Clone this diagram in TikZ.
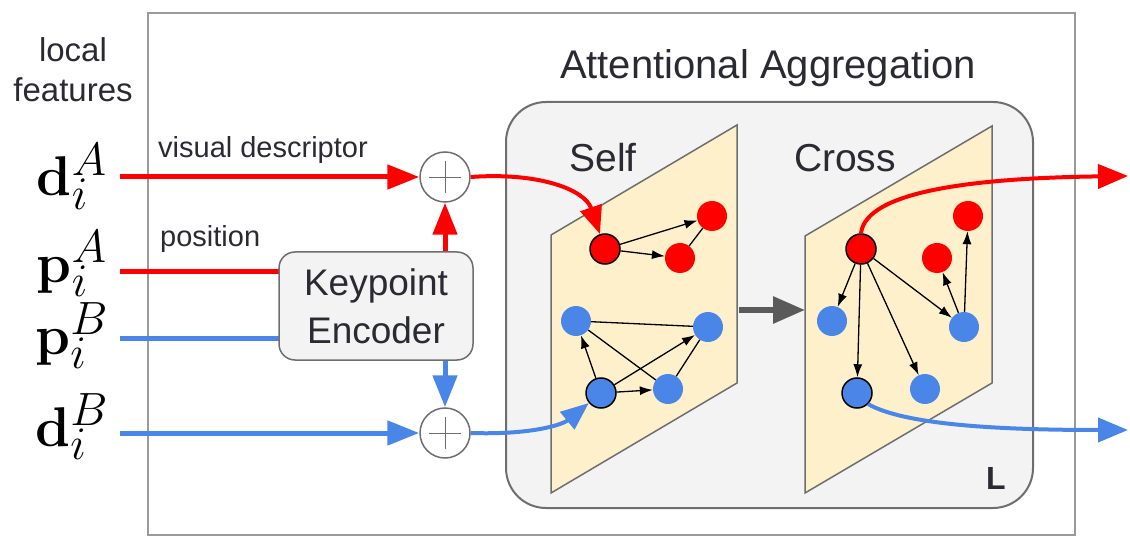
\documentclass[tikz,border=0pt]{standalone}
\usepackage{graphicx}
\usepackage[no-math]{fontspec}
\setmainfont{Liberation Sans}
\usetikzlibrary{arrows.meta}
\definecolor{cred}{HTML}{FF0000}
\definecolor{cblue}{HTML}{4A86E8}
\definecolor{cream}{HTML}{FFF0CC}
\definecolor{boxfill}{HTML}{F3F3F3}
\definecolor{boxline}{HTML}{6E6E6E}
\definecolor{framegray}{HTML}{9A9A9A}
\definecolor{txtgray}{HTML}{2A2A33}
\definecolor{arrgray}{HTML}{5A5A5A}
\newcommand{\biglbl}[1]{\scalebox{2.25}{\Huge$#1$}}
\tikzset{
  label/.style={text=txtgray, inner sep=0pt},
  mathlbl/.style={inner sep=0pt, anchor=base},
  flowred/.style={draw=cred, line width=5pt, -{Triangle[length=32pt,width=24pt]}},
  flowblue/.style={draw=cblue, line width=5pt, -{Triangle[length=32pt,width=24pt]}},
  plainred/.style={draw=cred, line width=5pt},
  plainblue/.style={draw=cblue, line width=5pt},
  sumnode/.style={circle, draw=boxline, line width=1.5pt, fill=white, minimum size=50pt, inner sep=0pt},
  panel/.style={draw=boxline, line width=1.5pt, fill=cream},
  kp/.style={circle, minimum size=30pt, inner sep=0pt},
  kpred/.style={kp, fill=cred},
  kpblue/.style={kp, fill=cblue},
  kpsel/.style={draw=black, line width=1.5pt},
  msg/.style={draw=black, line width=1.3pt, -{Latex[length=13pt,width=9pt]}},
  link/.style={draw=black, line width=1.3pt},
}
\begin{document}
\begin{tikzpicture}[x=1pt,y=-1pt]
\useasboundingbox (0,0) rectangle (1130,537);

% outer frame
\draw[framegray, line width=2pt] (148,13) rectangle (1075,535);

% input labels
\node[label, align=center, font=\fontsize{33}{40}\selectfont] (lf) at (73,70) {local\\features};
\node[mathlbl] (dA) at (72,196) {\biglbl{\mathbf{d}_i^{A}}};
\node[mathlbl] (pA) at (72,283) {\biglbl{\mathbf{p}_i^{A}}};
\node[mathlbl] (pB) at (72,355) {\biglbl{\mathbf{p}_i^{B}}};
\node[mathlbl] (dB) at (72,446) {\biglbl{\mathbf{d}_i^{B}}};

\coordinate (inDA) at (120,177);
\coordinate (inPA) at (120,272);
\coordinate (inPB) at (120,339);
\coordinate (inDB) at (120,433);

\node[label, anchor=base west, font=\fontsize{29}{32}\selectfont] (vd) at (158,158) {visual descriptor};
\node[label, anchor=base west, font=\fontsize{29}{32}\selectfont] (pos) at (160,247) {position};

% summation nodes and keypoint encoder
\node[sumnode] (plusA) at (445,177) {};
\node[sumnode] (plusB) at (445,433) {};
\foreach \p in {plusA,plusB}{
  \draw[boxline, line width=0.9pt] ([xshift=-16pt]\p.center) -- ([xshift=16pt]\p.center);
  \draw[boxline, line width=0.9pt] ([yshift=-16pt]\p.center) -- ([yshift=16pt]\p.center);
}

\draw[plainred] (inPA) -- (279,272);
\draw[plainblue] (inPB) -- (279,339);

\node[draw=boxline, line width=1.5pt, fill=boxfill, rounded corners=16pt,
      minimum width=194pt, minimum height=108pt, align=center, text=txtgray,
      font=\fontsize{37}{48}\selectfont] (ke) at (376,306) {Keypoint\\Encoder};

\draw[flowred] (inDA) -- (plusA.west);
\draw[flowblue] (inDB) -- (plusB.west);
\draw[flowred] (plusA |- ke.north) -- (plusA.south);
\draw[flowblue] (plusB |- ke.south) -- (plusB.north);

% attentional aggregation block
\node[label, font=\fontsize{40}{44}\selectfont] (aa) at (768,68) {Attentional Aggregation};
\node[draw=boxline, line width=2pt, fill=boxfill, rounded corners=40pt,
      minimum width=527pt, minimum height=406pt] (agg) at (769.5,305) {};

\draw[panel] (551,235) -- (737,125) -- (737,383) -- (551,493) -- cycle;
\draw[panel] (805,236) -- (992,126) -- (992,383) -- (805,493) -- cycle;
\node[label, font=\fontsize{39}{44}\selectfont] (selft) at (603,158) {Self};
\node[label, font=\fontsize{39}{44}\selectfont] (crosst) at (845,158) {Cross};
\node[label, font=\fontsize{32}{36}\bfseries\selectfont] (ll) at (996,478) {L};

\coordinate (gs) at (739,310);
\coordinate (ge) at (805,310);
\draw[arrgray, line width=6pt, -{Triangle[length=32pt,width=26pt]}] (gs) -- (ge);

% self-attention graph
\node[kpred, kpsel] (sA1) at (605,249) {};
\node[kpred] (sA2) at (712,216) {};
\node[kpred] (sA3) at (680,258) {};
\node[kpblue] (sB2) at (576,321) {};
\node[kpblue] (sB3) at (708,327) {};
\node[kpblue, kpsel] (sB1) at (601,393) {};
\node[kpblue] (sB4) at (668,389) {};

\draw[msg] (sA1) -- (sA2);
\draw[msg] (sA1) -- (sA3);
\draw[link] (sA3) -- (sA2);
\draw[link] (sB2) -- (sB3);
\draw[link] (sB2) -- (sB4);
\draw[link] (sB4) -- (sB3);
\draw[msg] (sB1) -- (sB2);
\draw[msg] (sB1) -- (sB3);
\draw[msg] (sB1) -- (sB4);

% cross-attention graph
\node[kpred, kpsel] (cA1) at (861,249) {};
\node[kpred] (cA2) at (968,216) {};
\node[kpred] (cA3) at (937,258) {};
\node[kpblue] (cB2) at (832,321) {};
\node[kpblue] (cB3) at (964,327) {};
\node[kpblue, kpsel] (cB1) at (857,393) {};
\node[kpblue] (cB4) at (925,389) {};

\draw[msg] (cA1) -- (cB2);
\draw[msg] (cA1) -- (cB1);
\draw[msg] (cA1) -- (cB4);
\draw[msg] (cA1) -- (cB3);
\draw[msg] (cB3) -- (cA3);
\draw[msg] (cB3) -- (cA2);

% flows into and out of the layers
\draw[draw=cred, line width=4pt, -{Triangle[length=28pt,width=22pt]}]
  (plusA.east) .. controls (540,172) and (585,190) .. (sA1);
\draw[draw=cblue, line width=4pt, -{Triangle[length=28pt,width=22pt]}]
  (plusB.east) .. controls (530,435) and (562,425) .. (sB1);

\coordinate (outA) at (1128,176);
\coordinate (outB) at (1128,430);
\draw[draw=cred, line width=4pt, -{Triangle[length=30pt,width=24pt]}]
  (cA1.north) .. controls (866,190) and (980,178) .. (outA);
\draw[draw=cblue, line width=4pt, -{Triangle[length=30pt,width=24pt]}]
  (cB1.south east) .. controls (905,425) and (1000,430) .. (outB);
\end{tikzpicture}
\end{document}
